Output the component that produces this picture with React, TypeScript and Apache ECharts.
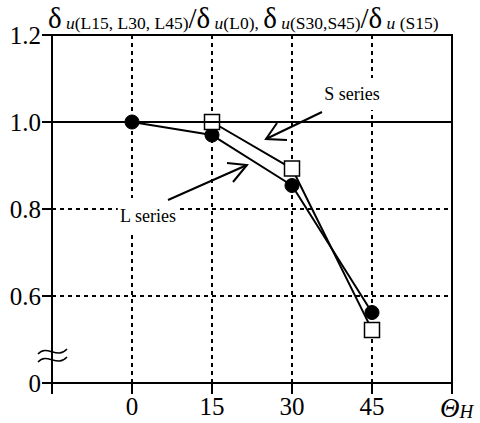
import React, { useEffect, useRef } from "react";
import * as echarts from "echarts";

const xTicks = [-15, 0, 15, 30, 45, 60];
const lAngles = [0, 15, 30, 45];
const lValues = [1.0, 0.97, 0.854, 0.562];
const sAngles = [15, 30, 45];
const sValues = [1.0, 0.893, 0.522];
const yLabelMap: Record<string, string> = { "0.4": "0", "0.6": "0.6", "0.8": "0.8", "1.0": "1.0", "1.2": "1.2" };

const FONT = "'Liberation Serif', 'Times New Roman', Times, serif";

export default function App() {
  const ref = useRef<HTMLDivElement>(null);
  useEffect(() => {
    document.body.style.margin = "0";
    const chart = echarts.init(ref.current!, null, { renderer: "svg" });
    const dashed = { color: "#000", width: 2, type: [4, 4] as any };
    chart.setOption({
      animation: false,
      backgroundColor: "#fff",
      textStyle: { fontFamily: FONT },
      grid: { left: 52, right: 28, top: 35, bottom: 40, show: true, borderColor: "#000", borderWidth: 2, backgroundColor: "transparent" },
      xAxis: {
        type: "value",
        min: xTicks[0],
        max: xTicks[xTicks.length - 1],
        interval: 15,
        axisLine: { onZero: false, lineStyle: { color: "#000", width: 2 } },
        axisTick: { length: 11, lineStyle: { color: "#000", width: 2 } },
        axisLabel: {
          margin: 11,
          fontSize: 25,
          fontFamily: FONT,
          color: "#000",
          formatter: (v: number) => (v === -15 || v === 60 ? "" : String(v)),
        },
        splitLine: { show: true, lineStyle: dashed },
      },
      yAxis: {
        type: "value",
        min: 0.4,
        max: 1.2,
        interval: 0.2,
        axisLine: { onZero: false, lineStyle: { color: "#000", width: 2 } },
        axisTick: { show: true, length: 10, lineStyle: { color: "#000", width: 2 } },
        axisLabel: {
          margin: 11,
          fontSize: 25,
          fontFamily: FONT,
          color: "#000",
          formatter: (v: number) => yLabelMap[v.toFixed(1)] ?? v.toFixed(1),
        },
        splitLine: { show: true, lineStyle: dashed },
      },
      series: [
        {
          type: "line",
          data: lAngles.map((a, i) => [a, lValues[i]]),
          symbol: "circle",
          symbolSize: 14,
          lineStyle: { color: "#000", width: 2 },
          itemStyle: { color: "#000", borderColor: "#000", borderWidth: 1 },
          markLine: {
            silent: true,
            symbol: "none",
            label: { show: false },
            lineStyle: { color: "#000", width: 2, type: "solid" },
            data: [{ yAxis: 1.0 }],
          },
          z: 3,
        },
        {
          type: "line",
          data: sAngles.map((a, i) => [a, sValues[i]]),
          symbol: "rect",
          symbolSize: 15,
          lineStyle: { color: "#000", width: 2 },
          itemStyle: { color: "#fff", borderColor: "#000", borderWidth: 1.5 },
          z: 4,
        },
      ],
      graphic: [
        {
          type: "text",
          x: 48,
          y: 2,
          style: {
            text:
              "{d|δ}{u| u}{s|(L15, L30, L45)}{sl|/}{d|δ}{u| u}{s|(L0), }{d|δ}{u| u}{s|(S30,S45)}{sl|/}{d|δ}{u| u}{s| (S15)}",
            fontFamily: FONT,
            fill: "#000",
            verticalAlign: "top",
            rich: {
              d: { fontSize: 29, fontFamily: FONT, fill: "#000", lineHeight: 30, verticalAlign: "bottom" },
              sl: { fontSize: 29, fontFamily: FONT, fill: "#000", lineHeight: 30, verticalAlign: "bottom" },
              u: { fontSize: 17.5, fontStyle: "italic", fontFamily: FONT, fill: "#000", lineHeight: 22, verticalAlign: "bottom" },
              s: { fontSize: 17.5, fontFamily: FONT, fill: "#000", lineHeight: 22, verticalAlign: "bottom" },
            },
          },
        },
        {
          type: "text",
          x: 440,
          y: 394,
          style: {
            text: "{t|Θ}{h|H}",
            fill: "#000",
            verticalAlign: "top",
            rich: {
              t: { fontSize: 27, fontStyle: "italic", fontFamily: FONT, fill: "#000", lineHeight: 27, verticalAlign: "bottom" },
              h: { fontSize: 19, fontStyle: "italic", fontFamily: FONT, fill: "#000", lineHeight: 16, verticalAlign: "bottom" },
            },
          },
        },
        {
          type: "text",
          x: 352,
          y: 94,
          z: 10,
          style: {
            text: "S series",
            fontSize: 18,
            fontFamily: FONT,
            fill: "#000",
            align: "center",
            verticalAlign: "middle",
            backgroundColor: "#fff",
            padding: [7, 2],
          },
        },
        {
          type: "text",
          x: 148,
          y: 216,
          z: 10,
          style: {
            text: "L series",
            fontSize: 18,
            fontFamily: FONT,
            fill: "#000",
            align: "center",
            verticalAlign: "middle",
            backgroundColor: "#fff",
            padding: [9, 2],
          },
        },
        {
          type: "polyline",
          z: 11,
          shape: { points: [[322, 112], [266, 139]] },
          style: { stroke: "#000", lineWidth: 2, fill: null },
        },
        {
          type: "polyline",
          z: 11,
          shape: { points: [[287, 140], [266, 139], [277, 123]] },
          style: { stroke: "#000", lineWidth: 2, fill: null },
        },
        {
          type: "polyline",
          z: 11,
          shape: { points: [[168, 200], [247, 165]] },
          style: { stroke: "#000", lineWidth: 2, fill: null },
        },
        {
          type: "polyline",
          z: 11,
          shape: { points: [[227, 163], [247, 165], [233, 182]] },
          style: { stroke: "#000", lineWidth: 2, fill: null },
        },
        {
          type: "bezierCurve",
          z: 11,
          shape: { x1: 38, y1: 354, cpx1: 47, cpy1: 344, cpx2: 57, cpy2: 360, x2: 67, y2: 349 },
          style: { stroke: "#000", lineWidth: 1.5, fill: null },
        },
        {
          type: "bezierCurve",
          z: 11,
          shape: { x1: 38, y1: 362, cpx1: 47, cpy1: 352, cpx2: 57, cpy2: 368, x2: 67, y2: 357 },
          style: { stroke: "#000", lineWidth: 1.5, fill: null },
        },
      ],
    });
    return () => chart.dispose();
  }, []);
  return <div ref={ref} style={{ width: 480, height: 423 }} />;
}
